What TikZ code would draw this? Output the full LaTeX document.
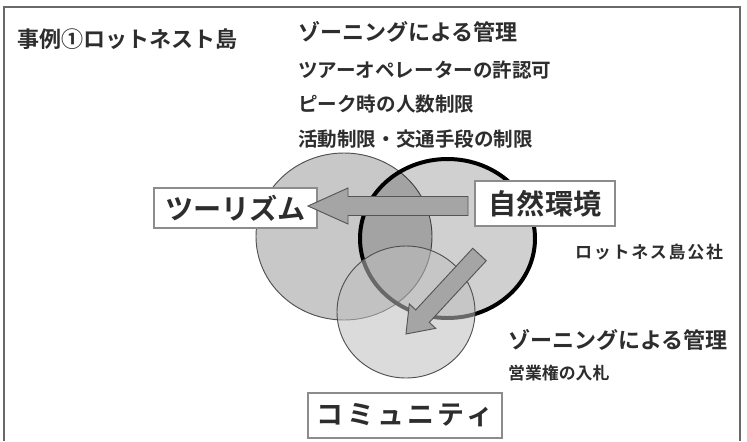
\documentclass[tikz,border=0pt]{standalone}
\usepackage{fontspec}
\setmainfont{Noto Sans CJK JP}[BoldFont={* Bold}]
\newfontfamily\widejp{Noto Sans CJK JP}[BoldFont={* Bold},LetterSpace=10]
\newfontfamily\boxjp{Noto Sans CJK JP}[BoldFont={* Bold},LetterSpace=12]
\usetikzlibrary{calc}
\definecolor{FrameGray}{RGB}{105,105,105}
\definecolor{InkGray}{RGB}{45,45,45}
\definecolor{BoxLine}{RGB}{140,140,140}
\definecolor{ArrowFill}{RGB}{165,165,165}
\definecolor{ArrowLine}{RGB}{85,85,85}
\definecolor{VennLine}{RGB}{80,80,80}
\definecolor{CommFill}{RGB}{190,190,190}
\tikzset{
  note/.style={anchor=west,inner sep=0pt,text=InkGray,
    font=\bfseries\fontsize{16.7}{18}\selectfont},
  headnote/.style={note,font=\bfseries\fontsize{18.8}{20}\selectfont},
  smallnote/.style={note,font=\bfseries\fontsize{14.4}{16}\selectfont},
  namebox/.style={draw=BoxLine,fill=white,line width=1.2pt,inner sep=0pt,
    text=InkGray,font=\bfseries\fontsize{24}{26}\selectfont},
  arrowbody/.style={draw=ArrowLine,fill=ArrowFill,line width=0.8pt,line join=miter}
}
% block arrow: tail, tip, half shaft, half head, head length
\newcommand{\bigarrow}[5]{%
  \coordinate (ah) at ($(#2)!#5!(#1)$);
  \draw[arrowbody] ($(#1)!#3!90:(#2)$) -- ($(ah)!#3!90:(#2)$) -- ($(ah)!#4!90:(#2)$)
    -- (#2) -- ($(ah)!#4!-90:(#2)$) -- ($(ah)!#3!-90:(#2)$) -- ($(#1)!#3!-90:(#2)$) -- cycle;}

\begin{document}
\begin{tikzpicture}[x=0.03cm,y=-0.03cm]
  \useasboundingbox (0,0) rectangle (747,441);
  \draw[FrameGray,line width=1.2pt] (4,441) |- (740,7) -- (740,441);

  % texts
  \node[headnote] (case) at (17,39) {事例①ロットネスト島};
  \node[headnote] (zone1) at (298,32) {ゾーニングによる管理};
  \node[note] (permit) at (298,70) {ツアーオペレーターの許認可};
  \node[note] (peak) at (298,104) {ピーク時の人数制限};
  \node[note] (limit) at (298,139) {活動制限・交通手段の制限};
  \node[note,font=\bfseries\widejp\fontsize{14.5}{16}\selectfont] (corp) at (575,252) {ロットネス島公社};
  \node[headnote] (zone2) at (508,340) {ゾーニングによる管理};
  \node[smallnote] (bid) at (508,373) {営業権の入札};

  % circles
  \draw[VennLine,line width=0.8pt,fill=black,fill opacity=0.216]
    (344,236.5) ellipse [x radius=88,y radius=83.5];
  \draw[black,line width=3.4pt,fill=black,fill opacity=0.184]
    (447.5,238.5) ellipse [x radius=87.5,y radius=79.5];
  \draw[VennLine,line width=0.8pt,fill=CommFill,fill opacity=0.55]
    (406,312) ellipse [x radius=69,y radius=66];

  % boxes
  \node[namebox,minimum width=4.89cm,minimum height=1.2cm] (tour) at (235.5,208) {ツーリズム};
  \node[namebox,minimum width=4.2cm,minimum height=1.35cm] (nature) at (545,203.5) {自然環境};
  \node[namebox,minimum width=5.82cm,minimum height=1.35cm,
    font=\bfseries\boxjp\fontsize{23}{25}\selectfont] (comm) at (405,415.5) {コミュニティ};

  % arrows
  \coordinate (tailA) at (468,206);
  \coordinate (tipA) at (308,206);
  \coordinate (tailB) at (479.5,254.5);
  \coordinate (tipB) at (406,334);
  \bigarrow{tailA}{tipA}{0.285cm}{0.54cm}{1.2cm}
  \bigarrow{tailB}{tipB}{0.276cm}{0.54cm}{0.73cm}
\end{tikzpicture}
\end{document}
